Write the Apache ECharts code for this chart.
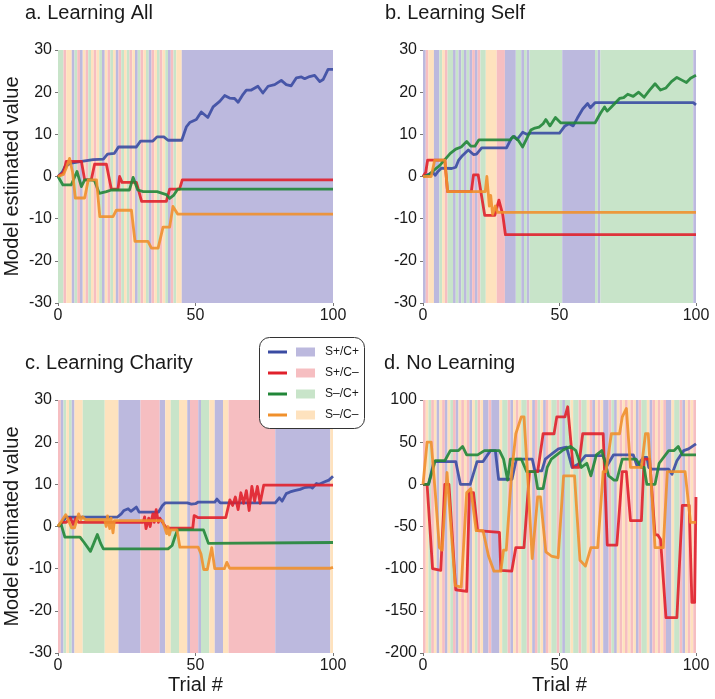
<!DOCTYPE html>
<html><head><meta charset="utf-8">
<script src="https://cdn.jsdelivr.net/npm/echarts@6/dist/echarts.min.js"></script>
<style>html,body{margin:0;padding:0;background:#fff}#c{width:715px;height:699px}</style>
</head><body><div id="c"></div><script>
// ---------- data ----------
const panelTitles = ['a. Learning All', 'b. Learning Self', 'c. Learning Charity', 'd. No Learning'];
const legendNames = ['S+/C+', 'S+/C\u2013', 'S\u2013/C+', 'S\u2013/C\u2013'];
const catKeys = ['P', 'R', 'G', 'Y']; // S+/C+, S+/C-, S-/C+, S-/C-

// trial condition runs [category, number of trials]
const bandsA = [['G',2],['R',1],['Y',2],['P',1],['G',1],['R',1],['P',1],['Y',1],['R',1],['G',1],['Y',1],['R',1],['Y',1],['G',1],['P',1],['Y',1],['R',1],['G',1],['Y',1],['P',1],['R',1],['G',1],['Y',1],['G',1],['R',1],['Y',1],['P',1],['G',1],['R',1],['Y',1],['G',1],['P',1],['R',1],['Y',1],['G',1],['R',1],['Y',1],['G',1],['P',1],['R',1],['G',1],['Y',2],['P',55]];
const bandsB = [['P',1],['R',1],['Y',2],['P',2],['G',1],['Y',1],['R',1],['G',2],['P',1],['G',1],['P',1],['G',1],['P',1],['G',1],['P',1],['R',1],['P',1],['R',1],['G',2],['Y',4],['R',3],['P',4],['G',2],['P',1],['G',1],['P',1],['G',12],['P',12],['G',1],['P',1],['G',34],['P',1]];
const bandsC = [['R',1],['P',1],['G',1],['Y',1],['G',1],['P',1],['Y',3],['G',8],['Y',5],['P',8],['R',7],['P',2],['Y',2],['G',3],['Y',3],['P',1],['R',3],['P',1],['G',3],['Y',2],['P',3],['Y',2],['R',17],['P',20],['Y',1]];
const bandsD = 'RYGRYPYRPY' + 'GRPYRYRPYG' + 'RYPPRPPPYG' + 'GRPYRYGGRY' + 'PRGYPRYGGR' +
               'GPGGYGGRGG' + 'YRPYRYPPRG' + 'PYRYRYRYPR' + 'GGYPRYRYRP' + 'PYGGRPYRYR';

// series values [trial, value]
const blueA = [[0,0],[1.5,1],[2.5,2.3],[4.4,3.1],[8,3.5],[12.8,4],[16.5,4.1],[18,5.3],[20.5,5.5],[22,7],[28.5,7],[30,8.4],[34.5,8.4],[36,9.4],[38.5,9.4],[40,8.6],[45,8.6],[46.7,11.8],[47.9,12.8],[50.3,13.5],[52.1,15.3],[54.5,14],[56.4,16.5],[58.8,17.8],[60.6,19.2],[62.4,18.6],[64.2,18.5],[65.5,17.6],[67.3,19.5],[68.5,20.5],[70.3,20.5],[72.7,21.4],[74.5,19.8],[76.4,21.4],[78.8,21.8],[81.2,22.8],[83,21.8],[84.8,21.5],[86.7,23.4],[88.5,23.6],[89.7,23.2],[91.5,23.7],[93.3,24],[95.2,22.5],[96.4,23],[98.2,25.4],[100,25.4]];
const redA = [[0,0],[2,1],[3,3.6],[8.5,3.6],[9.7,-0.8],[12.1,-0.8],[13.3,2.9],[17.6,2.9],[19.4,-3],[21.8,-3],[22.4,0],[23.3,-1.4],[28.5,-1.4],[30.4,-5.9],[39.4,-5.9],[40.6,-3],[44.2,-3],[45.2,-0.8],[100,-0.8]];
const greenA = [[0,0],[1.8,-2],[4.8,-2],[6.9,1.2],[8.5,-2.4],[9.7,-0.8],[12.1,-0.8],[13.3,-1],[15,-4],[17.6,-3.6],[19.4,-3.2],[26,-3.2],[27.3,-0.2],[29,-3.2],[31,-3.6],[36,-3.6],[39.4,-4.3],[40.6,-5.2],[42,-4.5],[43.5,-3],[100,-3]];
const orangeA = [[0,0],[2,0.5],[3,2],[4.2,4.3],[5.3,1],[6.3,-5.1],[9.7,-5.1],[11,-0.8],[14,-0.8],[15.2,-9.5],[20,-9.5],[21.2,-8],[26.7,-8],[28,-15.4],[32.7,-15.4],[34,-17],[36.4,-17],[38.2,-12],[40.6,-12],[41.8,-7.1],[43.5,-8.9],[100,-8.9]];

const blueB = [[0,0],[2,0.5],[3.5,1],[4.5,0.3],[5.5,1.2],[6.8,2],[10.5,1.9],[12,2.2],[13,3.8],[14.5,5],[16.6,6.3],[18.5,5.2],[19.6,5.3],[21.5,6.8],[30.6,6.8],[32.4,9.1],[33.5,9.5],[34.5,8.8],[36.5,10.5],[38,10],[39.5,10.3],[50,10.3],[52,12],[53.5,12.5],[55,12],[56.5,13.8],[58.5,16],[60.3,17.3],[61.3,16.3],[63,17.5],[99,17.5],[100,17]];
const redB = [[0,0],[1,1],[1.7,3.9],[8,3.9],[9,-3.6],[17.7,-3.6],[18.5,0.4],[20.2,0.4],[22.6,-9.2],[26.3,-9.2],[27.8,-5.6],[29.2,-9],[30.2,-13.8],[100,-13.8]];
const greenB = [[0,0],[2,0.3],[4,1.5],[6,2.5],[8,4],[10,5.5],[12,6.5],[14,7],[16,8.3],[17.5,7.2],[19,7.2],[20.5,8.7],[32,8.7],[33,9.5],[35,8.5],[36.5,7],[38,9],[39.5,11],[41,11.5],[42.5,11.7],[44,12.5],[45,13.5],[46.5,12],[48.5,14],[50.5,12.7],[63,12.7],[65,15],[66.5,16.5],[67.5,15.5],[69,16.5],[70.5,17.5],[72,18.5],[73.5,18.7],[75,19.5],[77,19],[79,20],[81,18.8],[83,20.5],[85,22],[87,20.5],[89,21],[91,22.5],[93,23.5],[95,22.8],[96.5,22.3],[98,23.3],[100,24]];
const orangeB = [[0,0],[3,0],[4.3,3.9],[8,3.9],[9,-3.6],[22.8,-3.6],[23.4,0],[24.3,-7],[24.8,-4.5],[25.5,-9],[26.5,-7],[27.3,-8.5],[100,-8.5]];

const blueC = [[0,0],[1.5,1],[3,2.2],[21.5,2.2],[23,3],[24,3.8],[25.5,4.2],[26.5,3.6],[28.5,4.6],[29.5,3.4],[36.5,3.4],[38,5],[39,5.6],[47,5.6],[48.5,5.3],[50,5.4],[51,5.8],[57,5.8],[57.8,6.5],[59,5.6],[79,5.6],[80.5,6.8],[81.5,6],[83,7.8],[84.4,8.2],[86,8.5],[88,8.8],[89.5,9.2],[91.7,9.4],[92.5,9.1],[94,10.2],[95,10],[97,10.6],[98.5,11],[100,11.9]];
const redC = [[0,0],[1.5,1],[3,1],[4.5,2],[5.5,0.5],[6.5,2],[7.5,1],[31,1],[31.5,2.3],[32,-0.5],[33,2],[33.5,0],[34.5,3],[35,1],[35.7,4],[36.5,1],[37,2],[38,1],[39.5,-0.4],[49,-0.4],[49.5,2.6],[51,2.1],[61,2.1],[62.5,6.3],[63.5,5],[64.5,7],[65.5,4],[66.5,8],[67.5,5.5],[68.5,8.5],[69.5,3.8],[70.5,9.5],[71.5,6],[72.5,9.5],[73.5,5.5],[74.8,9.8],[100,9.8]];
const greenC = [[0,0],[1,0.8],[2.5,-2.5],[8,-2.5],[9.5,-3.8],[11.8,-5.9],[13,-4],[14.3,-1.9],[15.5,-4],[16.5,-5.3],[40,-5.3],[41.5,-4.5],[42.5,-2.5],[43.5,-0.8],[52.9,-0.8],[54.7,-4],[100,-3.8]];
const orangeC = [[0,0],[1.5,1.5],[2.8,2.8],[3.8,1.5],[4.9,-0.3],[6,-0.3],[7.5,3],[8.3,1.6],[9,2.3],[10,1.6],[17,1.6],[17.5,0],[18,2.5],[18.8,-0.5],[19.3,2],[20,-1.5],[20.5,1.4],[38,1.4],[39.5,-1.7],[40,0],[40.5,-2],[41,-0.8],[43.3,-0.8],[44.3,-4.9],[51,-4.9],[52,-6.5],[53,-10.2],[54.3,-10.2],[55.9,-5],[57,-10],[60.5,-10],[61.4,-8.5],[62.4,-9.9],[99,-9.9],[100,-9.7]];

const blueD = [[0,0],[2,0],[4,27],[12,27],[13.7,0],[17.3,0],[19.8,27],[22,27],[24.7,40],[26.5,40],[27.7,6],[32.6,6],[34.2,30],[40,30],[41,16],[43.5,16],[44.8,30],[47.2,36],[49.6,42],[52.6,44],[54.6,20],[57,24],[59.5,34],[66,34],[67.4,22],[69.8,35],[77,35],[78.4,22],[80.8,32],[82,32],[82.7,20],[84,18],[90,18],[91.2,12],[93,28],[95.5,40],[97.3,42],[100,48]];
const redD = [[0,0],[1.5,0],[3.5,-100],[6.5,-102],[8,0],[9.5,0],[12,-125],[16,-127],[17,-10],[18.5,-10],[20,-55],[28,-57],[28.5,-102],[32.5,-103],[34,-75],[37,-75],[39,15],[42,15],[44,60],[48,60],[49,80],[52,80],[53,92],[55,20],[57,20],[58.5,60],[66,60],[67.5,-72],[71,-72],[73,15],[74.5,15],[76,-43],[80,-43],[81,30],[83,30],[85,-60],[86,-60],[87,-65],[89,-158],[93,-158],[95,-25],[97.5,-25],[98.5,-140],[99.5,-140],[100,-15]];
const greenD = [[0,0],[2,0],[4.5,28],[8,28],[10,40],[13,40],[14.5,45],[16,35],[20,35],[22.5,40],[28,40],[29.5,30],[31,5],[32,30],[36,30],[38,15],[41,15],[42,-5],[44,-5],[45.5,20],[47,30],[49,35],[51,40],[54,45],[56,40],[58,20],[60,25],[61.5,10],[63.5,35],[65.5,40],[68,10],[70,5],[71,5],[73,30],[78,30],[80,20],[81,20],[82,0],[85,0],[86.5,25],[90,40],[92,40],[93.5,45],[95,35],[100,35]];
const orangeD = [[0,0],[1.5,50],[3,50],[4.5,-10],[6,-75],[7,-78],[8.8,14],[9.5,15],[11.8,-120],[14,-122],[16,-10],[17.5,-5],[19.5,-55],[22,-55],[24,-85],[26,-103],[28.5,-103],[29.5,-78],[30.5,-78],[32.5,15],[34,60],[36,80],[37,80],[38.5,0],[40,-88],[42,-15],[43,-15],[45,-80],[47,-85],[49.5,-87],[51.5,10],[55.5,10],[57.5,-90],[59.5,-97],[61.5,-75],[64,-75],[66,15],[67,15],[69,60],[72,60],[73,80],[74.5,90],[76,20],[80,20],[81.5,60],[82.5,60],[85,-75],[88,-75],[89.5,15],[96,15],[98,-45],[100,-45]];

const xTicks = {min: 0, max: 100, interval: 50};
const yTicksSmall = {min: -30, max: 30, interval: 10};
const yTicksBig = {min: -200, max: 100, interval: 50};

// ---------- styling ----------
const lineColors = ['#3a4ba2', '#e0202b', '#218638', '#f0902c'];
const bandColors = {P: '#bcb9de', R: '#f6bec1', G: '#c8e4c9', Y: '#fee2be'};
const FONT = "'Liberation Sans', Arial, Helvetica, sans-serif";
const TXT = '#1a1a1a';

const grids = [
  {left: 58, top: 50, width: 275, height: 253},
  {left: 423, top: 50, width: 273, height: 253},
  {left: 58, top: 400, width: 275, height: 253},
  {left: 423, top: 400, width: 273, height: 253}
];
const panelBands = [bandsA, bandsB, bandsC, bandsD.split('').map(c => [c, 1])];
const panelSeries = [
  [blueA, redA, greenA, orangeA],
  [blueB, redB, greenB, orangeB],
  [blueC, redC, greenC, orangeC],
  [blueD, redD, greenD, orangeD]
];
const panelY = [yTicksSmall, yTicksSmall, yTicksSmall, yTicksBig];

function runsToAreas(runs) {
  const out = [];
  let t = 0;
  const merged = [];
  runs.forEach(([c, n]) => {
    if (merged.length && merged[merged.length - 1][0] === c) merged[merged.length - 1][1] += n;
    else merged.push([c, n]);
  });
  merged.forEach(([c, n]) => {
    out.push([{xAxis: t, itemStyle: {color: bandColors[c], opacity: 1, borderWidth: 0}}, {xAxis: t + n}]);
    t += n;
  });
  return out;
}

const xAxes = grids.map((g, i) => ({
  type: 'value', gridIndex: i, min: xTicks.min, max: xTicks.max, interval: xTicks.interval,
  axisLine: {show: false, onZero: false}, splitLine: {show: false},
  axisTick: {show: true, length: 3, lineStyle: {color: '#777'}},
  axisLabel: {color: TXT, fontSize: 16, fontFamily: FONT, margin: 5},
  name: i >= 2 ? 'Trial #' : '', nameLocation: 'middle', nameGap: 22,
  nameTextStyle: {color: TXT, fontSize: 20, fontFamily: FONT}
}));
const yAxes = grids.map((g, i) => ({
  type: 'value', gridIndex: i, min: panelY[i].min, max: panelY[i].max, interval: panelY[i].interval,
  axisLine: {show: false, onZero: false}, splitLine: {show: false},
  axisTick: {show: true, length: 3, lineStyle: {color: '#777'}},
  axisLabel: {color: TXT, fontSize: 16, fontFamily: FONT, margin: 6},
  name: (i % 2 === 0) ? 'Model estimated value' : '', nameLocation: 'middle', nameGap: 36,
  nameTextStyle: {color: TXT, fontSize: 20, fontFamily: FONT}
}));

const series = [];
grids.forEach((g, i) => {
  series.push({
    type: 'scatter', xAxisIndex: i, yAxisIndex: i, data: [], z: 1, silent: true, symbolSize: 0,
    markArea: {silent: true, data: runsToAreas(panelBands[i]), label: {show: false}}
  });
  panelSeries[i].forEach((d, k) => {
    series.push({
      name: legendNames[k], type: 'line', xAxisIndex: i, yAxisIndex: i, data: d, z: 3,
      showSymbol: false, symbol: 'none', animation: false, silent: true,
      lineStyle: {color: lineColors[k], width: 2.8, opacity: 0.9, join: 'round'},
      itemStyle: {color: lineColors[k]}
    });
  });
});

const titlePos = [[25, 3], [385, 3], [25, 353], [384, 353]];
const titles = panelTitles.map((t, i) => ({
  text: t, left: titlePos[i][0], top: titlePos[i][1], padding: 0,
  textStyle: {fontSize: 20, fontWeight: 'normal', color: TXT, fontFamily: FONT}
}));

// legend (drawn as graphic)
const legY = [352, 373, 394, 415];
const legendEls = [{
  type: 'rect', shape: {x: 259.5, y: 337.5, width: 105, height: 91, r: 10},
  style: {fill: '#fff', stroke: '#333', lineWidth: 1}, z: 100
}];
legendNames.forEach((n, k) => {
  legendEls.push({type: 'line', shape: {x1: 268, y1: legY[k], x2: 287, y2: legY[k]},
    style: {stroke: lineColors[k], lineWidth: 3}, z: 101});
  legendEls.push({type: 'rect', shape: {x: 296, y: legY[k] - 4.5, width: 19, height: 9},
    style: {fill: bandColors[catKeys[k]]}, z: 101});
  legendEls.push({type: 'text', x: 325, y: legY[k],
    style: {text: n, fill: TXT, font: '12px ' + FONT, verticalAlign: 'middle'}, z: 101});
});

const chart = echarts.init(document.getElementById('c'), null, {renderer: 'canvas'});
chart.setOption({
  animation: false,
  backgroundColor: '#fff',
  title: titles,
  grid: grids.map(g => Object.assign({containLabel: false}, g)),
  xAxis: xAxes,
  yAxis: yAxes,
  series: series,
  graphic: legendEls
});
</script></body></html>
